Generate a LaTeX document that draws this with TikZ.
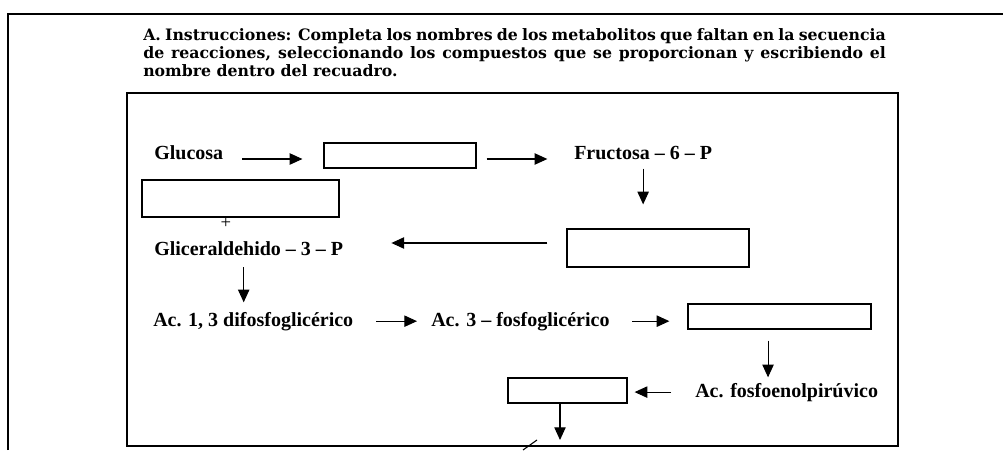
\documentclass[tikz,border=0pt]{standalone}
\usepackage{fontspec}
\setmainfont{Liberation Serif}
\newfontfamily\titlefont{DejaVu Serif}
\usetikzlibrary{arrows.meta}

\tikzset{
  lbl/.style={inner sep=0pt, font=\fontsize{15}{18}\selectfont\bfseries},
  blank/.style={draw, line width=0.9pt, inner sep=0pt, minimum height=18.75pt},
  flecha/.style={-{Triangle[length=9.5pt,width=8.5pt]}, line width=0.8pt},
}

\begin{document}
\begin{tikzpicture}[x=0.75pt, y=-0.75pt]
      \useasboundingbox (0,0) rectangle (1003,450);
      \draw[line width=1.5pt] (8,450) -- (8,14) -- (1003,14);
      \draw[line width=1pt] (127,93) rectangle (898,446);
      \node[anchor=north west, inner sep=0pt, text width=557pt, align=justify,
            font=\titlefont\fontsize{11.8}{13.5}\selectfont\bfseries] (instr) at (143,28)
        {A. Instrucciones: Completa los nombres de los metabolitos que faltan en la secuencia\linebreak
         de reacciones, seleccionando los compuestos que se proporcionan y escribiendo el\linebreak
         nombre dentro del recuadro.};
      \path
        (154,159) node[lbl, anchor=base west] (glu){Glucosa}
        (574,159) node[lbl, anchor=base west] (fru){Fructosa -- 6 -- P}
        (154,255) node[lbl, anchor=base west] (gli){Gliceraldehido -- 3 -- P}
        (153,326) node[lbl, anchor=base west] (difos){Ac. 1, 3 difosfoglicérico}
        (431,326) node[lbl, anchor=base west] (fosfo){Ac. 3 -- fosfoglicérico}
        (695,397) node[lbl, anchor=base west] (pep){Ac. fosfoenolpirúvico}
        (400,155.5) node[blank, minimum width=114pt] (b1){}
        (240.5,198.5) node[blank, minimum width=147.75pt, minimum height=27.75pt] (b2){}
        (658,248) node[blank, minimum width=136.5pt, minimum height=28.5pt] (b3){}
        (779.5,316.5) node[blank, minimum width=137.25pt] (b4){}
        (567.5,390.5) node[blank, minimum width=89.25pt] (b5){}
        (226,223.5) node[inner sep=0pt, font=\fontsize{14}{16}\selectfont] (mas){+};
      \coordinate (fin) at (560,440);
      \begin{scope}[flecha]
        \draw[shorten <=14pt, shorten >=15.75pt] (glu.base east) to (glu.base east -| b1.west);
        \draw[shorten <=7.5pt, shorten >=20pt] (fru.base west -| b1.east) to (fru.base west);
        \draw[shorten <=6.75pt, shorten >=18pt] (fru.south) to (fru.south |- b3.north);
        \draw[shorten <=14.25pt, shorten >=36pt] ([yshift=3.75pt]b3.west) to ([yshift=3.75pt]b3.west -| gli.east);
        \draw[shorten <=9pt, shorten >=7pt] ([xshift=-3.75pt]gli.south) to ([xshift=-3.75pt]gli.south |- difos.north);
        \draw[shorten <=17pt, shorten >=10.5pt] (difos.east) to (difos.east -| fosfo.west);
        \draw[shorten <=17pt, shorten >=13.5pt] (fosfo.east) to (fosfo.east -| b4.west);
        \draw[shorten <=8.25pt, shorten >=4pt] ([xshift=-8.6pt]b4.south) to ([xshift=-8.6pt]b4.south |- pep.north);
        \draw[shorten <=18pt, shorten >=5.25pt] (pep.west) to (pep.west -| b5.east);
        \draw (b5.south -| fin) to (fin);
      \end{scope}
      \draw[line width=0.8pt] (537,440) -- (523,450);
\end{tikzpicture}
\end{document}
